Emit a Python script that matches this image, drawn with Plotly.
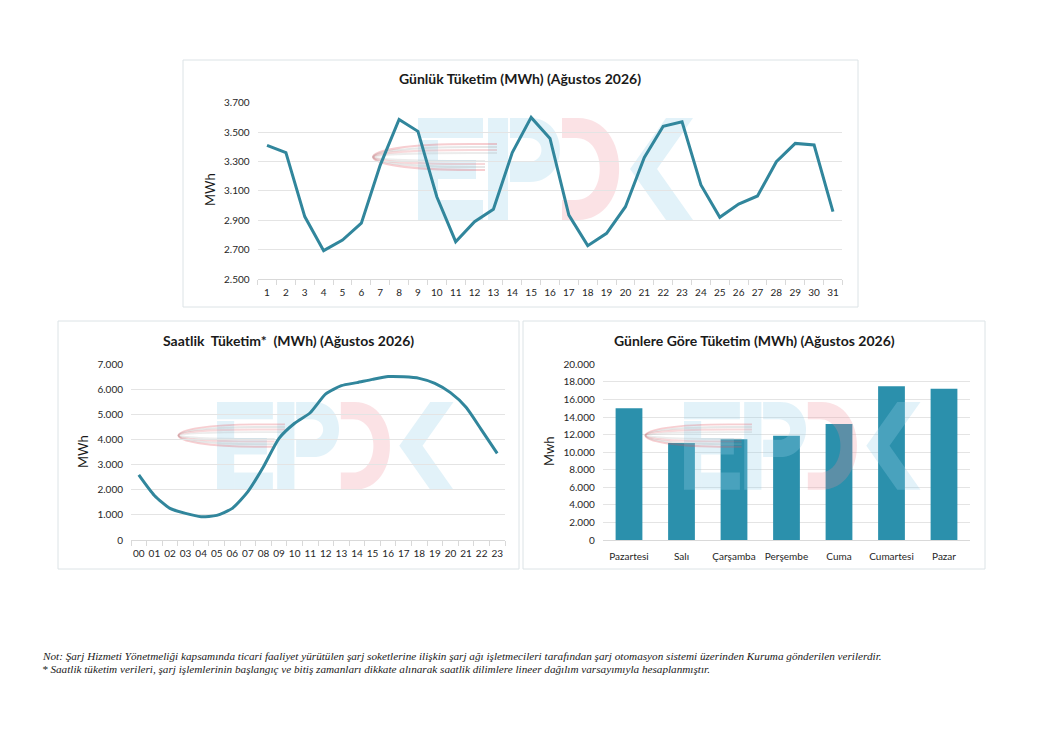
import plotly.graph_objects as go

W, H = 1045, 740

# daily consumption, August 2026 (MWh)
days = [str(d) for d in range(1, 32)]
daily = [3410, 3360, 2925, 2693, 2765, 2880, 3275, 3586, 3505, 3060,
         2754, 2890, 2975, 3360, 3600, 3457, 2935, 2727, 2811, 2992,
         3328, 3540, 3570, 3140, 2920, 3010, 3065, 3298, 3423, 3412, 2958]

# hourly consumption (MWh)
hours = [f"{h:02d}" for h in range(24)]
hourly = [2590, 1770, 1260, 1060, 930, 980, 1260, 1925, 2920, 4050, 4650, 5070,
          5820, 6150, 6270, 6400, 6510, 6500, 6440, 6240, 5870, 5290, 4380, 3450]

# consumption by weekday (MWh)
weekdays = ["Pazartesi", "Salı", "Çarşamba", "Perşembe", "Cuma", "Cumartesi", "Pazar"]
by_day = [15000, 11040, 11460, 11880, 13200, 17500, 17230]

LINE = "#31869C"
BAR = "#2B90AC"
GRID = "#E4E4E4"
AXIS = "#D9D9D9"
FONT = "Lato"


def px(x):
    return x / W


def py(y):
    return 1 - y / H


fig = go.Figure()

fig.add_trace(go.Scatter(x=days, y=daily, mode="lines", line=dict(color=LINE, width=3),
                         xaxis="x", yaxis="y", showlegend=False))
fig.add_trace(go.Scatter(x=hours, y=hourly, mode="lines", line=dict(color=LINE, width=3, shape="spline", smoothing=0.6),
                         xaxis="x2", yaxis="y2", showlegend=False))
fig.add_trace(go.Bar(x=weekdays, y=by_day, marker=dict(color=BAR, line=dict(width=0)),
                     xaxis="x3", yaxis="y3", showlegend=False))

tick_font = dict(family=FONT, size=10, color="#262626")
xbase = dict(type="category", showgrid=False, showline=True, linecolor=AXIS, linewidth=1,
             ticks="outside", tickson="boundaries", ticklen=5, tickcolor=AXIS, tickangle=0,
             ticklabelstandoff=4, tickfont=tick_font, zeroline=False, fixedrange=True, automargin=False)
ybase = dict(showgrid=True, gridcolor=GRID, gridwidth=1, zeroline=False, showline=False,
             tickformat=",", tickfont=tick_font, ticks="", ticklabelstandoff=7,
             fixedrange=True, automargin=False)

fig.update_layout(
    width=W, height=H, autosize=False,
    margin=dict(l=0, r=0, t=0, b=0, pad=0, autoexpand=False),
    paper_bgcolor="white", plot_bgcolor="rgba(0,0,0,0)",
    separators=",.",
    bargap=0.49,
    font=dict(family=FONT, color="#262626"),
    xaxis=dict(xbase, domain=[px(257.6), px(842.4)], range=[-0.5, 30.5], anchor="y"),
    yaxis=dict(ybase, domain=[py(279), py(102.7)], range=[2500, 3700], tick0=2500, dtick=200, anchor="x"),
    xaxis2=dict(xbase, domain=[px(131), px(505)], range=[-0.5, 23.5], anchor="y2"),
    yaxis2=dict(ybase, domain=[py(540), py(364.3)], range=[0, 7000], dtick=1000, anchor="x2"),
    xaxis3=dict(xbase, domain=[px(602.75), px(970.25)], range=[-0.5, 6.5], anchor="y3",
                ticks="", ticklabelstandoff=7),
    yaxis3=dict(ybase, domain=[py(540), py(364.3)], range=[0, 20000], dtick=2000, anchor="x3"),
)

shapes = []
annotations = []

# chart frames
for x0, y0, x1, y1 in [(183, 60, 858, 307), (58, 321, 519, 569), (523, 321, 985, 569)]:
    shapes.append(dict(type="rect", xref="paper", yref="paper", x0=px(x0), y0=py(y0), x1=px(x1), y1=py(y1),
                       line=dict(color="#DCE3E6", width=1), layer="below"))

# EPDK logo watermark, outlines in logo units (height 102)
E_SHAPE = ["M 0,0 L 65,0 L 65,20 L 0,20 Z", "M 0,22 L 20,22 L 20,102 L 0,102 Z",
           "M 20,42 L 58,42 L 58,61 L 20,61 Z", "M 20,82 L 65,82 L 65,102 L 20,102 Z"]
P_SHAPE = ["M 70,0 L 90,0 L 90,102 L 70,102 Z",
           "M 92,0 L 112,0 C 152,0 152,64 112,64 L 92,64 Z M 92,20 L 110,20 C 128,20 128,44 110,44 L 92,44 Z"]
D_SHAPE = ["M 144,0 L 160,0 C 215,0 215,102 160,102 L 144,102 L 144,82 L 158,82 C 190,82 190,20 158,20 L 144,20 Z"]
K_SHAPE = ["M 275,0 L 248,0 L 212,51 L 248,102 L 275,102 L 239,51 Z"]


def to_paper(path, x0, y0, s):
    out = []
    for tok in path.split():
        if "," in tok:
            a, b = tok.split(",")
            out.append(f"{px(x0 + float(a) * s):.5f},{py(y0 + float(b) * s):.5f}")
        else:
            out.append(tok)
    return " ".join(out)


def watermark(x0, y0, s, layer):
    blue = "rgba(150,208,232,0.28)"
    pink = "rgba(240,140,150,0.25)"
    for paths, col in [(E_SHAPE, blue), (P_SHAPE, blue), (D_SHAPE, pink), (K_SHAPE, blue)]:
        for p in paths:
            shapes.append(dict(type="path", xref="paper", yref="paper", path=to_paper(p, x0, y0, s),
                               fillcolor=col, fillrule="evenodd", line=dict(width=0), layer=layer))
    # swoosh arcs
    cx, cy = 52, 39
    for b, col in [(13, "rgba(225,80,90,0.28)"), (10, "rgba(160,160,160,0.25)"),
                   (7, "rgba(225,80,90,0.22)"), (4, "rgba(160,160,160,0.2)")]:
        p = (f"M {cx + 27},{cy - b} L {cx},{cy - b} C {cx - 129},{cy - b} {cx - 129},{cy + b} "
             f"{cx},{cy + b} L {cx + 15},{cy + b}")
        shapes.append(dict(type="path", xref="paper", yref="paper", path=to_paper(p, x0, y0, s),
                           line=dict(color=col, width=2.2 * s), layer=layer))


watermark(418, 118, 1.0, "below")
watermark(217, 402, 0.86, "below")
watermark(684, 402, 0.86, "above")

# chart titles
for text, x, y in [("Günlük Tüketim (MWh) (Ağustos 2026)", 520, 78),
                   ("Saatlik  Tüketim*  (MWh) (Ağustos 2026)", 288, 340),
                   ("Günlere Göre Tüketim (MWh) (Ağustos 2026)", 754, 340)]:
    annotations.append(dict(text=f"<b>{text}</b>", xref="paper", yref="paper", x=px(x), y=py(y),
                            xanchor="center", yanchor="middle", showarrow=False,
                            font=dict(family=FONT, size=14, color="#1A1A1A")))

# y-axis titles
for text, x, y in [("MWh", 210, 190), ("MWh", 83, 452), ("Mwh", 549, 452)]:
    annotations.append(dict(text=text, xref="paper", yref="paper", x=px(x), y=py(y), textangle=-90,
                            xanchor="center", yanchor="middle", showarrow=False,
                            font=dict(family=FONT, size=13, color="#1A1A1A")))

# footnotes
notes = [
    "Not: Şarj Hizmeti Yönetmeliği kapsamında ticari faaliyet yürütülen şarj soketlerine ilişkin şarj ağı "
    "işletmecileri tarafından şarj otomasyon sistemi üzerinden Kuruma gönderilen verilerdir.",
    "* Saatlik tüketim verileri, şarj işlemlerinin başlangıç ve bitiş zamanları dikkate alınarak saatlik "
    "dilimlere lineer dağılım varsayımıyla hesaplanmıştır.",
]
for i, t in enumerate(notes):
    annotations.append(dict(text=f"<i>{t}</i>", xref="paper", yref="paper", x=px(40), y=py(656 + i * 13),
                            xanchor="left", yanchor="middle", showarrow=False,
                            font=dict(family="Liberation Serif", size=11.2, color="#1A1A1A")))

fig.update_layout(shapes=shapes, annotations=annotations)

fig.write_html("out.html", config={"displayModeBar": False},
               post_script="document.body.style.margin='0';")
